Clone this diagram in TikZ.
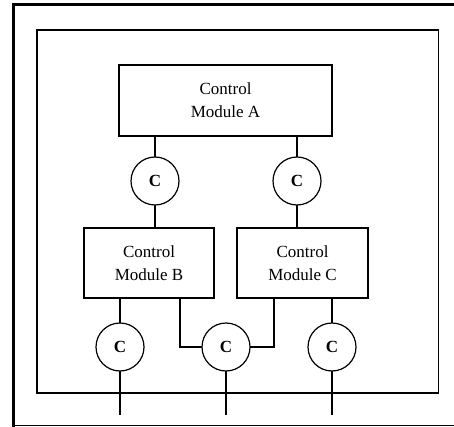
\documentclass[tikz,border=0pt]{standalone}
\usepackage{fontspec}
\setmainfont{Liberation Serif}
\usepackage{tikz}
\usetikzlibrary{positioning}
\usetikzlibrary{calc}

\begin{document}
\begin{tikzpicture}[x=1pt,y=-1pt,line width=1.2pt,outer sep=0pt,
  module/.style={draw, minimum height=71pt, align=center, fill=white, font=\fontsize{17}{23}\selectfont},
  conn/.style={draw, circle, minimum size=48pt, inner sep=0pt, fill=white, font=\fontsize{17}{17}\selectfont\bfseries}]

\useasboundingbox (0,0) rectangle (454,427);

% Frames
\draw[line width=3pt] (13.5,427) -- (13.5,4.5) -- (454,4.5);
\draw (13.5,425.5) -- (454,425.5);
\draw[line width=1.3pt] (37,30) rectangle (438.5,393);

% Modules
\node [module, minimum width=213pt] (modA) at (225.5,100.5) {Control\\Module A};
\node [module, minimum width=130pt, minimum height=70pt] (modB) at (149,263) {Control\\Module B};
\node [module, minimum width=131pt, minimum height=70pt] (modC) at (302.5,263) {Control\\Module C};

% Connectors
\node [conn] (cA1) at (155,181) {C};
\node [conn] (cA2) at (297,181) {C};
\node [conn] (cB) at (120,347) {C};
\node [conn] (cBC) at (226,347) {C};
\node [conn] (cC) at (332,347) {C};
\coordinate (bus) at (0,415);

% Links
\draw (modA.south -| cA1) -- (cA1) -- (modB.north -| cA1);
\draw (modA.south -| cA2) -- (cA2) -- (modC.north -| cA2);
\draw (modB.south -| cB) -- (cB);
\draw (modC.south -| cC) -- (cC);
\draw ([xshift=31pt]modB.south) |- (cBC);
\draw ([xshift=-28.5pt]modC.south) |- (cBC);
\foreach \c in {cB,cBC,cC}
  \draw (\c) -- (\c |- bus);

\end{tikzpicture}
\end{document}
